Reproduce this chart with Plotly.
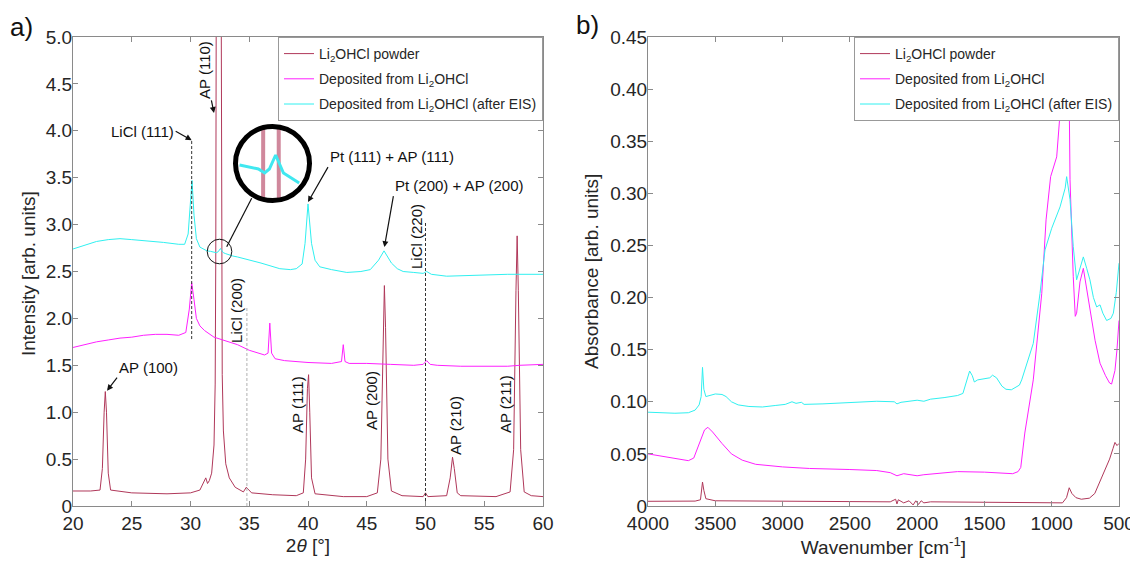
import plotly.graph_objects as go

# page body has an 8px margin at top-left; figure coordinates are shifted accordingly
OFF = 8
W, H = 1146 - OFF, 568 - OFF


def px(x):
    return (x - OFF) / W


def py(y):
    return 1 - (y - OFF) / H


# ---------------- Panel a: XRD ----------------
tt_powder = [20.0, 21.5, 22.3, 22.5, 22.65, 22.75, 22.85, 23.0, 23.2, 25.0, 28.0, 30.0, 30.8, 31.1, 31.3,
             31.45, 31.6, 31.8, 32.0, 32.1, 32.15, 32.2, 32.4, 32.6, 32.65, 32.7, 32.8, 33.0, 33.3, 33.8,
             34.5, 34.75, 34.9, 35.2, 37.0, 39.0, 39.6, 39.8, 39.95, 40.05, 40.15, 40.3, 40.6, 43.0, 45.0,
             45.9, 46.2, 46.4, 46.5, 46.6, 46.8, 47.1, 48.0, 49.8, 50.0, 50.2, 51.8, 52.1, 52.3, 52.45,
             52.7, 53.0, 56.0, 57.2, 57.5, 57.7, 57.8, 57.9, 58.1, 58.4, 59.0, 60.0]
i_powder = [0.16, 0.16, 0.17, 0.40, 1.00, 1.22, 1.00, 0.35, 0.17, 0.14, 0.13, 0.14, 0.17, 0.25, 0.30,
            0.24, 0.27, 0.35, 0.65, 1.30, 2.60, 6.00, 9.00, 6.00, 2.70, 1.40, 0.80, 0.45, 0.30, 0.20,
            0.15, 0.20, 0.18, 0.14, 0.12, 0.11, 0.14, 0.50, 1.25, 1.40, 1.00, 0.30, 0.13, 0.10, 0.10,
            0.14, 0.50, 2.00, 2.35, 1.90, 0.50, 0.16, 0.11, 0.10, 0.14, 0.10, 0.11, 0.30, 0.52, 0.40,
            0.14, 0.11, 0.10, 0.15, 0.60, 2.30, 2.88, 2.30, 0.60, 0.15, 0.11, 0.10]

tt_dep = [20.0, 21.0, 22.0, 23.0, 24.0, 25.0, 26.0, 27.0, 28.0, 29.0, 29.6, 29.9, 30.1, 30.3, 30.5,
          30.8, 31.2, 32.0, 33.0, 34.0, 35.0, 35.8, 36.3, 36.6, 36.75, 36.9, 37.2, 38.0, 40.0, 42.0,
          42.85, 43.0, 43.15, 43.5, 45.0, 47.0, 49.0, 49.8, 50.1, 50.4, 51.0, 53.0, 55.0, 57.0, 58.0, 60.0]
i_dep = [1.69, 1.72, 1.75, 1.77, 1.79, 1.80, 1.82, 1.83, 1.83, 1.82, 1.85, 2.10, 2.38, 2.20, 2.00,
         1.92, 1.87, 1.80, 1.76, 1.72, 1.66, 1.63, 1.61, 1.63, 1.95, 1.63, 1.57, 1.55, 1.53, 1.52,
         1.54, 1.72, 1.54, 1.52, 1.52, 1.51, 1.50, 1.51, 1.55, 1.51, 1.50, 1.49, 1.49, 1.49, 1.50, 1.51]

tt_eis = [20.0, 21.0, 22.0, 23.0, 24.0, 25.0, 26.0, 27.7, 29.0, 29.5, 29.8, 30.0, 30.13, 30.3, 30.5,
          30.8, 31.1, 31.4, 31.7, 32.0, 32.2, 32.35, 32.55, 32.65, 32.8, 33.0, 33.3, 33.6, 34.0, 34.8,
          36.0, 37.6, 38.5, 39.0, 39.5, 39.75, 40.0, 40.3, 40.6, 41.0, 42.0, 43.3, 44.5, 45.3, 46.0,
          46.47, 46.8, 47.1, 47.6, 48.1, 49.0, 49.8, 50.1, 50.5, 51.8, 54.0, 57.0, 60.0]
i_eis = [2.74, 2.78, 2.82, 2.84, 2.85, 2.84, 2.83, 2.81, 2.79, 2.79, 2.90, 3.25, 3.47, 3.10, 2.85,
         2.76, 2.74, 2.72, 2.715, 2.71, 2.70, 2.71, 2.745, 2.725, 2.70, 2.69, 2.675, 2.665, 2.655, 2.63,
         2.59, 2.53, 2.52, 2.53, 2.58, 2.80, 3.22, 2.80, 2.62, 2.55, 2.52, 2.49, 2.50, 2.52, 2.62,
         2.72, 2.65, 2.59, 2.53, 2.50, 2.49, 2.48, 2.50, 2.47, 2.45, 2.46, 2.47, 2.47]

licl_x = [30.1, 34.8, 50.0]
licl_top = [3.90, 2.13, 3.02]
licl_bottom = [1.78, 0.0, 0.0]
licl_color = ['#333333', '#b0b0b0', '#333333']

ya_ticks = [0, 0.5, 1.0, 1.5, 2.0, 2.5, 3.0, 3.5, 4.0, 4.5, 5.0]
ya_text = ['0', '0.5', '1.0', '1.5', '2.0', '2.5', '3.0', '3.5', '4.0', '4.5', '5.0']
xa_ticks = [20, 25, 30, 35, 40, 45, 50, 55, 60]

# ---------------- Panel b: FTIR ----------------
wn_powder = [4000, 3800, 3650, 3610, 3595, 3585, 3570, 3500, 3000, 2500, 2200, 2160, 2150, 2140, 2100,
             2060, 2030, 2010, 1990, 1970, 1950, 1900, 1500, 1200, 1000, 920, 890, 870, 850, 820, 780,
             720, 680, 640, 600, 570, 545, 530, 515, 500]
ab_powder = [0.0045, 0.0045, 0.0047, 0.006, 0.023, 0.015, 0.007, 0.005, 0.0045, 0.004, 0.004, 0.0065,
             0.002, 0.006, 0.003, 0.005, 0.001, 0.005, 0.0015, 0.005, 0.003, 0.004, 0.0035, 0.003,
             0.0025, 0.003, 0.008, 0.0175, 0.012, 0.008, 0.0065, 0.0075, 0.012, 0.024, 0.036, 0.045,
             0.055, 0.061, 0.058, 0.060]

wn_dep = [4000, 3900, 3800, 3700, 3660, 3620, 3580, 3555, 3520, 3450, 3380, 3300, 3200, 3000, 2800,
          2500, 2300, 2200, 2150, 2100, 2050, 2000, 1950, 1800, 1700, 1500, 1350, 1290, 1250, 1230,
          1200, 1137, 1074, 1042, 1008, 963, 938, 900, 869, 864, 840, 825, 815, 790, 765, 728, 678,
          641, 600, 570, 555, 530, 515, 500]
ab_dep = [0.050, 0.048, 0.046, 0.0435, 0.046, 0.060, 0.073, 0.0755, 0.071, 0.060, 0.050, 0.044, 0.040,
          0.0375, 0.036, 0.035, 0.034, 0.032, 0.029, 0.031, 0.030, 0.029, 0.030, 0.032, 0.033, 0.0325,
          0.031, 0.031, 0.033, 0.037, 0.070, 0.121, 0.204, 0.2745, 0.316, 0.335, 0.377, 0.430, 0.378,
          0.313, 0.220, 0.182, 0.185, 0.215, 0.228, 0.200, 0.159, 0.137, 0.125, 0.118, 0.117, 0.130,
          0.150, 0.178]

wn_eis = [4000, 3900, 3800, 3700, 3650, 3620, 3605, 3595, 3585, 3570, 3540, 3500, 3450, 3420, 3380,
          3330, 3250, 3150, 3050, 2980, 2930, 2900, 2860, 2840, 2700, 2500, 2300, 2170, 2150, 2120,
          2050, 2000, 1950, 1900, 1800, 1700, 1660, 1630, 1610, 1590, 1575, 1550, 1500, 1460, 1440,
          1410, 1370, 1340, 1300, 1270, 1240, 1223, 1137, 1087, 1050, 1000, 963, 938, 900, 889, 864,
          840, 815, 790, 765, 740, 716, 690, 666, 641, 620, 592, 560, 542, 520, 500]
ab_eis = [0.090, 0.0895, 0.089, 0.0895, 0.092, 0.097, 0.105, 0.133, 0.112, 0.105, 0.106, 0.1075, 0.107,
          0.105, 0.100, 0.097, 0.0955, 0.095, 0.0965, 0.0975, 0.100, 0.0985, 0.0995, 0.0975, 0.098,
          0.0995, 0.1005, 0.100, 0.098, 0.0995, 0.101, 0.1015, 0.1005, 0.1025, 0.104, 0.106, 0.108,
          0.122, 0.1295, 0.125, 0.119, 0.121, 0.1225, 0.123, 0.1255, 0.123, 0.115, 0.112, 0.1115,
          0.114, 0.116, 0.121, 0.156, 0.204, 0.2457, 0.2665, 0.278, 0.287, 0.305, 0.316, 0.294, 0.249,
          0.217, 0.228, 0.239, 0.228, 0.217, 0.200, 0.191, 0.193, 0.185, 0.178, 0.180, 0.185, 0.205,
          0.233]

yb_ticks = [0, 0.05, 0.10, 0.15, 0.20, 0.25, 0.30, 0.35, 0.40, 0.45]
yb_text = ['0', '0.05', '0.10', '0.15', '0.20', '0.25', '0.30', '0.35', '0.40', '0.45']
xb_ticks = [4000, 3500, 3000, 2500, 2000, 1500, 1000, 500]

names = ['Li<sub>2</sub>OHCl powder', 'Deposited from Li<sub>2</sub>OHCl',
         'Deposited from Li<sub>2</sub>OHCl (after EIS)']
C_POW = '#b0385a'
C_DEP = '#ff20ff'
C_EIS = '#30f0f0'

FONT = 'Liberation Sans, Arial, sans-serif'
TXT = '#262626'
AX = '#8a8a8a'
FS = 19

fig = go.Figure()

# panel a traces
fig.add_trace(go.Scatter(x=tt_powder, y=i_powder, mode='lines', line=dict(color=C_POW, width=1),
                         name=names[0], legend='legend', legendgroup='p'))
fig.add_trace(go.Scatter(x=tt_dep, y=i_dep, mode='lines', line=dict(color=C_DEP, width=1),
                         name=names[1], legend='legend', legendgroup='d'))
fig.add_trace(go.Scatter(x=tt_eis, y=i_eis, mode='lines', line=dict(color=C_EIS, width=1),
                         name=names[2], legend='legend', legendgroup='e'))
for xv, yt, yb, c in zip(licl_x, licl_top, licl_bottom, licl_color):
    fig.add_trace(go.Scatter(x=[xv, xv], y=[yb, yt], mode='lines', showlegend=False,
                             line=dict(color=c, width=1, dash='3px,2px'), hoverinfo='skip'))

# panel b traces
fig.add_trace(go.Scatter(x=wn_powder, y=ab_powder, mode='lines', line=dict(color=C_POW, width=1),
                         name=names[0], xaxis='x2', yaxis='y2', legend='legend2', legendgroup='p2'))
fig.add_trace(go.Scatter(x=wn_dep, y=ab_dep, mode='lines', line=dict(color=C_DEP, width=1),
                         name=names[1], xaxis='x2', yaxis='y2', legend='legend2', legendgroup='d2'))
fig.add_trace(go.Scatter(x=wn_eis, y=ab_eis, mode='lines', line=dict(color=C_EIS, width=1),
                         name=names[2], xaxis='x2', yaxis='y2', legend='legend2', legendgroup='e2'))

# inset (magnified view)
ins_x = [x for x in tt_eis if 31.4 <= x <= 33.3]
ins_y = [y for x, y in zip(tt_eis, i_eis) if 31.4 <= x <= 33.3]
fig.add_trace(go.Scatter(x=tt_powder, y=i_powder, mode='lines', showlegend=False,
                         line=dict(color='rgba(176,56,90,0.6)', width=4, simplify=False),
                         xaxis='x3', yaxis='y3'))
fig.add_trace(go.Scatter(x=ins_x, y=ins_y, mode='lines', showlegend=False,
                         line=dict(color='#40e8f0', width=3), xaxis='x3', yaxis='y3'))

ax_common = dict(showline=True, linecolor=AX, linewidth=1, mirror='ticks', ticks='inside',
                 ticklen=5, tickcolor=AX, tickwidth=1, showgrid=False, zeroline=False,
                 automargin=False, ticklabeloverflow='allow',
                 tickfont=dict(family=FONT, size=FS, color=TXT),
                 title_font=dict(family=FONT, size=FS, color=TXT))

ydom = [py(506), py(37)]
fig.update_layout(
    width=W, height=H, margin=dict(l=0, r=0, t=0, b=0, autoexpand=False),
    paper_bgcolor='white', plot_bgcolor='white',
    font=dict(family=FONT, color=TXT),
    xaxis=dict(domain=[px(73), px(543)], range=[20, 60], tickvals=xa_ticks,
               title=dict(text='2<i>θ</i> [°]', standoff=5), **ax_common),
    yaxis=dict(domain=ydom, range=[0, 5], tickvals=ya_ticks, ticktext=ya_text, ticklabelstandoff=-4,
               **ax_common),
    xaxis2=dict(domain=[px(648), px(1119)], range=[4000, 500], tickvals=xb_ticks, anchor='y2',
                title=dict(text='Wavenumber [cm<sup>-1</sup>]', standoff=7), **ax_common),
    yaxis2=dict(domain=ydom, range=[0, 0.45], tickvals=yb_ticks, ticktext=yb_text, anchor='x2',
                ticklabelstandoff=-4, **ax_common),
    xaxis3=dict(domain=[px(238), px(307)], range=[31.35, 33.55], visible=False, anchor='y3',
                automargin=False),
    yaxis3=dict(domain=[py(198), py(129)], range=[2.6375, 2.81], visible=False, anchor='x3',
                automargin=False),
    legend=dict(x=px(543), y=py(37), xanchor='right', yanchor='top', bgcolor='white',
                bordercolor='#999999', borderwidth=1, font=dict(family=FONT, size=14, color=TXT),
                tracegroupgap=4),
    legend2=dict(x=px(1119), y=py(37), xanchor='right', yanchor='top', bgcolor='white',
                 bordercolor='#999999', borderwidth=1, font=dict(family=FONT, size=14, color=TXT),
                 tracegroupgap=4),
    showlegend=True,
)

ann_font = dict(family=FONT, size=15, color='#111111')
arrow = dict(showarrow=True, arrowhead=2, arrowsize=1, arrowwidth=1.2, arrowcolor='#111111')
anns = [
    dict(x=30.1, y=3.9, text='LiCl (111)', ax=-16, ay=-9, xanchor='right', yanchor='middle', **arrow),
    dict(x=32.0, y=4.19, text='AP (110)', ax=-9, ay=-43, textangle=-90, **arrow),
    dict(x=40.0, y=3.24, text='Pt (111) + AP (111)', ax=20, ay=-35, xanchor='left', yanchor='bottom', **arrow),
    dict(x=46.5, y=2.76, text='Pt (200) + AP (200)', ax=9, ay=-51, xanchor='left', yanchor='bottom', **arrow),
    dict(x=22.9, y=1.23, text='AP (100)', ax=10, ay=-13, xanchor='left', yanchor='bottom', **arrow),
    dict(x=39.06, y=1.087, text='AP (111)', textangle=-90, showarrow=False),
    dict(x=45.45, y=1.12, text='AP (200)', textangle=-90, showarrow=False),
    dict(x=52.51, y=0.863, text='AP (210)', textangle=-90, showarrow=False),
    dict(x=56.77, y=1.087, text='AP (211)', textangle=-90, showarrow=False),
    dict(x=33.96, y=2.08, text='LiCl (200)', textangle=-90, showarrow=False),
    dict(x=49.28, y=2.868, text='LiCl (220)', textangle=-90, showarrow=False),
]
for a in anns:
    a.update(xref='x', yref='y', font=ann_font)
    if a.get('showarrow'):
        a.update(axref='pixel', ayref='pixel')
fig.update_layout(annotations=anns)
fig.add_annotation(x=px(21), y=py(27), xref='paper', yref='paper', text='a)', showarrow=False,
                   xanchor='center', yanchor='middle', font=dict(family=FONT, size=26, color='#111111'))
fig.add_annotation(x=px(587), y=py(25), xref='paper', yref='paper', text='b)', showarrow=False,
                   xanchor='center', yanchor='middle', font=dict(family=FONT, size=26, color='#111111'))
# y-axis titles
fig.add_annotation(x=px(28), y=py(274), xref='paper', yref='paper', text='Intensity [arb. units]',
                   showarrow=False, textangle=-90, xanchor='center', yanchor='middle',
                   font=dict(family=FONT, size=FS, color=TXT))
fig.add_annotation(x=px(591), y=py(272), xref='paper', yref='paper', text='Absorbance [arb. units]',
                   showarrow=False, textangle=-90, xanchor='center', yanchor='middle',
                   font=dict(family=FONT, size=FS, color=TXT))

# magnifier shapes
fig.add_shape(type='circle', xref='x', yref='y', x0=32.47 - 1.047, x1=32.47 + 1.047,
              y0=2.713 - 0.131, y1=2.713 + 0.131, line=dict(color='#111111', width=1))
fig.add_shape(type='line', xref='paper', yref='paper', x0=px(226.7), y0=py(246.7),
              x1=px(251.7), y1=py(198.3), line=dict(color='#111111', width=1.2))
fig.add_shape(type='circle', xref='paper', yref='paper', x0=px(272.5 - 37), x1=px(272.5 + 37),
              y0=py(163.5 + 37), y1=py(163.5 - 37), line=dict(color='#000000', width=5),
              layer='above')

fig.write_html('out.html')
